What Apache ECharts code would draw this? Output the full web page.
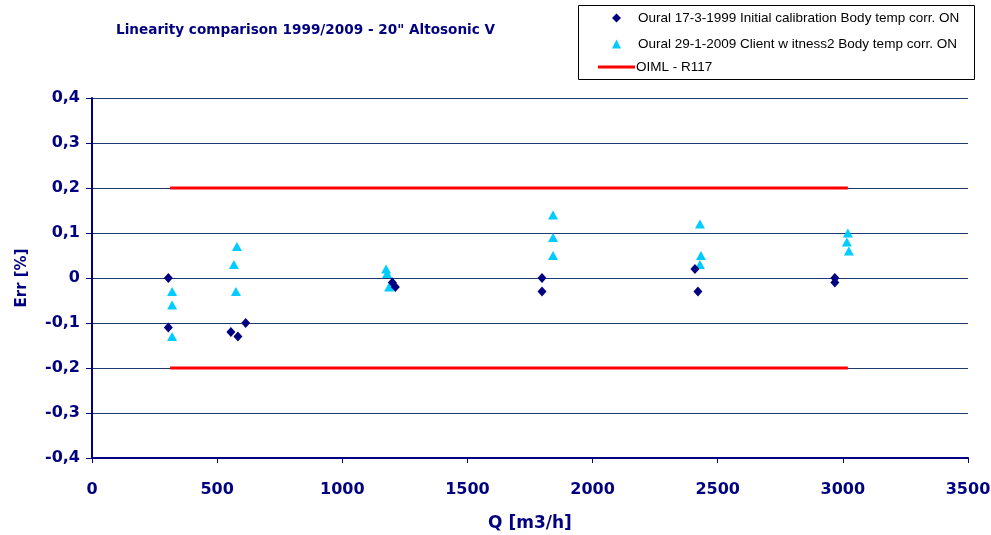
<!DOCTYPE html>
<html>
<head>
<meta charset="utf-8">
<script src="https://cdn.jsdelivr.net/npm/echarts@6/dist/echarts.min.js"></script>
<style>
  html, body { margin: 0; padding: 0; background: #ffffff; }
  #chart { width: 991px; height: 535px; }
</style>
</head>
<body>
<div id="chart"></div>
<script>
// Flow rate (m3/h) and error (%) for the 1999 initial calibration
var q1999 = [305, 305, 555, 583, 614, 1200, 1212, 1798, 1798, 2409, 2421, 2968, 2968];
var err1999 = [0, -0.11, -0.12, -0.13, -0.10, -0.01, -0.02, 0, -0.03, 0.02, -0.03, 0, -0.01];

// Flow rate (m3/h) and error (%) for the 2009 client witness run
var q2009 = [320, 320, 320, 579, 567, 575, 1175, 1179, 1187, 1842, 1842, 1842, 2429, 2433, 2429, 3020, 3016, 3024];
var err2009 = [-0.03, -0.06, -0.13, 0.07, 0.03, -0.03, 0.02, 0.01, -0.02, 0.14, 0.09, 0.05, 0.12, 0.05, 0.03, 0.10, 0.08, 0.06];

// OIML R117 tolerance band
var limitQ = [312, 3020];
var limitErr = [0.2, -0.2];

// Axis ticks
var xTicks = [0, 500, 1000, 1500, 2000, 2500, 3000, 3500];
var yTicks = [-0.4, -0.3, -0.2, -0.1, 0, 0.1, 0.2, 0.3, 0.4];

var name1999 = 'Oural 17-3-1999 Initial calibration Body temp corr. ON';
var name2009 = 'Oural 29-1-2009 Client w itness2 Body temp corr. ON';
var nameLimit = 'OIML - R117';

var navy = '#000080';
var font = '"Liberation Sans", Arial, sans-serif';
var boldFont = '"DejaVu Sans", "Liberation Sans", sans-serif';

function pairs(xs, ys) {
  return xs.map(function (x, i) { return [x, ys[i]]; });
}

var chart = echarts.init(document.getElementById('chart'), null, { renderer: 'canvas' });

var legendText = { fontFamily: font, fontSize: 13.5, color: '#000000' };

chart.setOption({
  animation: false,
  backgroundColor: '#ffffff',
  title: {
    text: 'Linearity comparison 1999/2009 - 20" Altosonic V',
    left: 116,
    top: 23,
    padding: 0,
    textStyle: { fontFamily: boldFont, fontSize: 13.6, fontWeight: 'bold', color: navy }
  },
  graphic: [{
    type: 'rect',
    z: 0,
    shape: { x: 578.5, y: 5.5, width: 396, height: 74 },
    style: { fill: '#ffffff', stroke: '#000000', lineWidth: 1 }
  }],
  legend: [
    {
      data: [name1999], left: 612, top: 11, padding: 0, orient: 'vertical',
      itemWidth: 9, itemHeight: 9, selectedMode: false,
      textStyle: Object.assign({ padding: [0, 0, 0, 12] }, legendText)
    },
    {
      data: [name2009], left: 612, top: 37, padding: 0, orient: 'vertical',
      itemWidth: 9, itemHeight: 9, selectedMode: false,
      textStyle: Object.assign({ padding: [0, 0, 0, 12] }, legendText)
    },
    {
      data: [{ name: nameLimit, icon: 'rect' }], left: 598, top: 60, padding: 0, orient: 'vertical',
      itemWidth: 37, itemHeight: 3, selectedMode: false,
      textStyle: Object.assign({ padding: [0, 0, 0, -4] }, legendText)
    }
  ],
  grid: {
    left: 92, right: 23, top: 98, bottom: 77,
    containLabel: false,
    outerBoundsMode: 'none'
  },
  xAxis: {
    type: 'value',
    min: xTicks[0],
    max: xTicks[xTicks.length - 1],
    interval: 500,
    name: 'Q [m3/h]',
    nameLocation: 'middle',
    nameGap: 57,
    nameTextStyle: { fontFamily: boldFont, fontSize: 17, fontWeight: 'bold', color: navy },
    axisLine: { show: true, onZero: false, lineStyle: { color: navy, width: 2 } },
    axisTick: { show: true, length: 5, lineStyle: { color: navy, width: 1 } },
    axisLabel: {
      fontFamily: boldFont, fontSize: 16, fontWeight: 'bold', color: navy, margin: 24,
      formatter: function (v) { return String(v); }
    },
    splitLine: { show: false }
  },
  yAxis: {
    type: 'value',
    min: yTicks[0],
    max: yTicks[yTicks.length - 1],
    interval: 0.1,
    name: 'Err [%]',
    nameLocation: 'middle',
    nameGap: 62,
    nameTextStyle: { fontFamily: boldFont, fontSize: 15, fontWeight: 'bold', color: navy },
    axisLine: { show: true, onZero: false, lineStyle: { color: navy, width: 2 } },
    axisTick: { show: true, length: 6, lineStyle: { color: navy, width: 1 } },
    axisLabel: {
      fontFamily: boldFont, fontSize: 16, fontWeight: 'bold', color: navy, margin: 12,
      formatter: function (v) {
        var r = Math.round(v * 10) / 10;
        return r === 0 ? '0' : String(r).replace('.', ',');
      }
    },
    splitLine: { show: true, lineStyle: { color: '#1f3a6e', width: 1 } }
  },
  series: [
    {
      name: nameLimit,
      type: 'line',
      symbol: 'none',
      lineStyle: { color: '#ff0000', width: 3 },
      itemStyle: { color: '#ff0000' },
      data: pairs(limitQ, [limitErr[0], limitErr[0]]),
      z: 2
    },
    {
      name: nameLimit,
      type: 'line',
      symbol: 'none',
      lineStyle: { color: '#ff0000', width: 3 },
      itemStyle: { color: '#ff0000' },
      data: pairs(limitQ, [limitErr[1], limitErr[1]]),
      z: 2
    },
    {
      name: name2009,
      type: 'scatter',
      symbol: 'triangle',
      symbolSize: [10, 9],
      itemStyle: { color: '#00ccff', opacity: 1 },
      data: pairs(q2009, err2009),
      z: 3
    },
    {
      name: name1999,
      type: 'scatter',
      symbol: 'diamond',
      symbolSize: [9, 10],
      itemStyle: { color: navy, opacity: 1 },
      data: pairs(q1999, err1999),
      z: 4
    }
  ]
});
</script>
</body>
</html>
